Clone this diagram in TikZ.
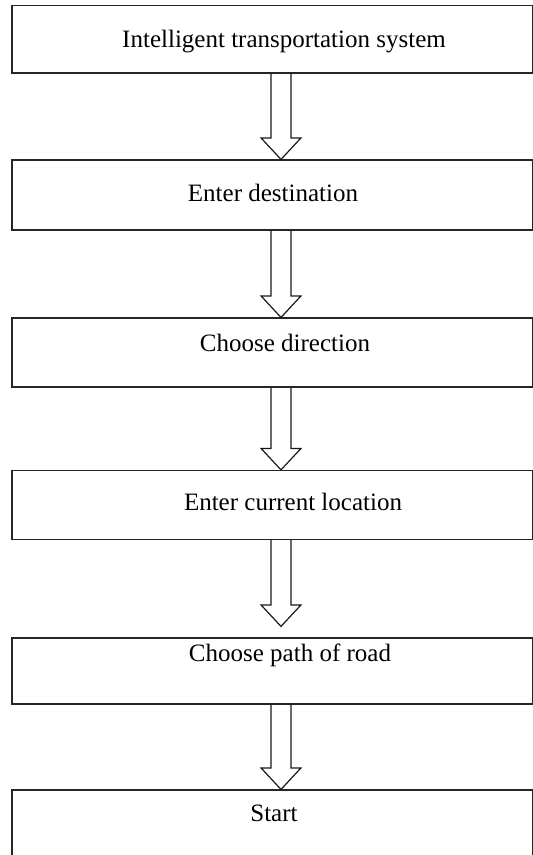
\documentclass[tikz,border=0pt]{standalone}
\usepackage{fontspec}
\setmainfont{Liberation Serif}
\usetikzlibrary{calc}
\tikzset{
  box/.style={draw=black!85, line width=1.2pt, rectangle, inner sep=0pt, minimum width=520.5pt},
  lbl/.style={inner sep=0pt, anchor=base, font=\fontsize{25}{30}\selectfont, text=black},
  blockarr/.style={draw=black!90, line width=1.2pt, line join=miter},
}
\newcommand{\blockarrow}[2]{%
  \draw[blockarr] let \p1=(#1.south), \p2=(#2) in
    (\x2-10pt,\y1) -- (\x2-10pt,\y2+21.5pt) -- (\x2-20pt,\y2+21.5pt) -- (\x2,\y2)
    -- (\x2+20pt,\y2+21.5pt) -- (\x2+10pt,\y2+21.5pt) -- (\x2+10pt,\y1);}
\begin{document}
\begin{tikzpicture}
\useasboundingbox (0,0) rectangle (533pt,-855pt);
\clip (0,0) rectangle (533pt,-855pt);
% boxes
\node[box, minimum height=67.5pt] (b1) at (272.25pt,-39.25pt) {};
\node[box, minimum height=70pt]   (b2) at (272.25pt,-195pt) {};
\node[box, minimum height=69pt]   (b3) at (272.25pt,-352.5pt) {};
\node[box, minimum height=69pt]   (b4) at (272.25pt,-505pt) {};
\node[box, minimum height=66pt]   (b5) at (272.25pt,-671pt) {};
\node[box, minimum height=80pt]   (b6) at (272.25pt,-830pt) {};
% labels
\node[lbl] (t1) at (284pt,-47.5pt) {Intelligent transportation system};
\node[lbl] (t2) at (273pt,-201pt) {Enter destination};
\node[lbl] (t3) at (285pt,-351pt) {Choose direction};
\node[lbl] (t4) at (293pt,-510pt) {Enter current location};
\node[lbl] (t5) at (290pt,-661pt) {Choose path of road};
\node[lbl] (t6) at (274pt,-821.5pt) {Start};
% arrow tips
\coordinate (p1) at ([xshift=8.75pt]b2.north);
\coordinate (p2) at ([xshift=8.75pt]b3.north);
\coordinate (p3) at ([xshift=8.75pt]b4.north);
\coordinate (p4) at ([xshift=8.75pt,yshift=11pt]b5.north);
\coordinate (p5) at ([xshift=8.75pt]b6.north);
\blockarrow{b1}{p1}
\blockarrow{b2}{p2}
\blockarrow{b3}{p3}
\blockarrow{b4}{p4}
\blockarrow{b5}{p5}
\end{tikzpicture}
\end{document}
